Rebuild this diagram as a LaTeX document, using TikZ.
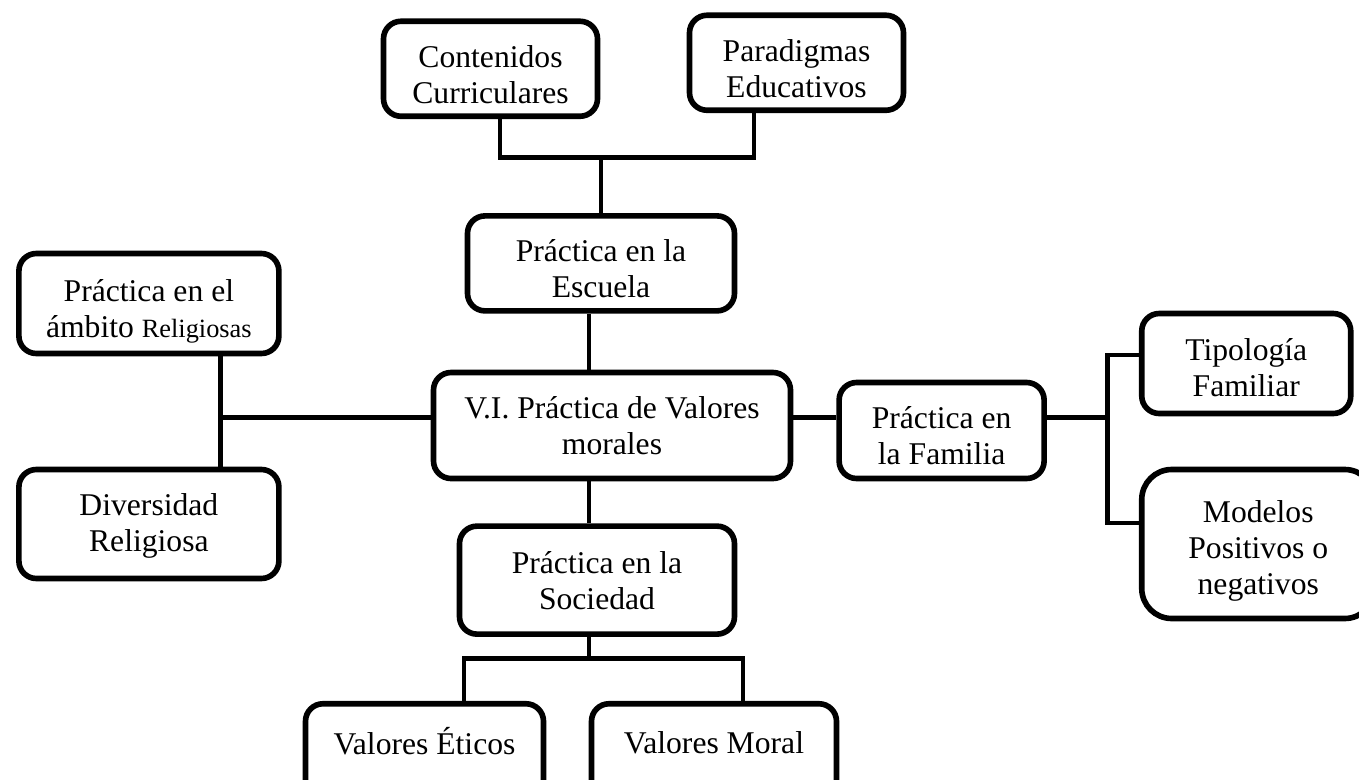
\documentclass[tikz,border=0pt]{standalone}
\usepackage{fontspec}
\setmainfont{Liberation Serif}
\usetikzlibrary{positioning}
\tikzset{
  every node/.style={text=black, draw=black, font=\fontsize{18}{20.5}\selectfont, line width=3.2pt, rounded corners=0.35cm},
  every path/.style={draw=black, line width=2.8pt}
}
% text of a box, moved down a little
\newcommand{\boxtext}[2][0.16cm]{\raisebox{-#1}[\height][\depth]{\begin{tabular}{c} #2 \end{tabular}}}

\begin{document}
\begin{tikzpicture}
  \path[use as bounding box, draw=none] (0,0) rectangle (27.18,-15.58);
  % Nodes
  \node (vi) at (12.24,-8.51) [minimum width=7.14cm, minimum height=2.12cm] {\boxtext[0.08cm]{V.I. Práctica de Valores \\ morales}};
  \node (escuela) [above=1.12cm of vi, xshift=-0.22cm, minimum width=5.34cm, minimum height=1.9cm] {\boxtext[0.18cm]{Práctica en la \\ Escuela}};
  \node (contenidos) [above=1.88cm of escuela, xshift=-2.21cm, minimum width=4.28cm, minimum height=1.9cm] {\boxtext[0.2cm]{Contenidos \\ Curriculares}};
  \node (paradigmas) [above=2cm of escuela, xshift=3.91cm, minimum width=4.28cm, minimum height=1.9cm] {\boxtext[0.2cm]{Paradigmas \\ Educativos}};
  \node (sociedad) [below=0.84cm of vi, xshift=-0.3cm, minimum width=5.5cm, minimum height=2.16cm] {\boxtext[0.08cm]{Práctica en la \\ Sociedad}};
  \node (eticos) [below=1.28cm of sociedad, xshift=-3.45cm, minimum width=4.76cm, minimum height=1.9cm] {\boxtext[-0.1cm]{Valores Éticos}};
  \node (moral) [below=1.28cm of sociedad, xshift=2.34cm, minimum width=4.9cm, minimum height=1.9cm] {\boxtext[-0.1cm]{Valores Moral}};
  \node (familia) [right=0.86cm of vi, yshift=-0.1cm, minimum width=4.1cm, minimum height=1.92cm] {\boxtext[0.18cm]{Práctica en \\ la Familia}};
  \node (tipologia) [right=1.84cm of familia, yshift=1.34cm, minimum width=4.18cm, minimum height=2cm] {\boxtext{Tipología \\ Familiar}};
  \node (modelos) [right=1.84cm of familia, yshift=-2.27cm, minimum width=4.66cm, minimum height=2.98cm, rounded corners=0.6cm] {\boxtext[0.14cm]{Modelos \\ Positivos o \\ negativos}};
  \node (religiosas) [left=2.98cm of vi, yshift=2.44cm, minimum width=5.2cm, minimum height=2cm] {\boxtext[0.18cm]{Práctica en el \\ ámbito {\fontsize{15}{18}\selectfont Religiosas}}};
  \node (diversidad) [left=2.98cm of vi, yshift=-1.97cm, minimum width=5.2cm, minimum height=2.18cm] {\boxtext[0.04cm]{Diversidad \\ Religiosa}};

  % school branch
  \coordinate (schoolbar) at ([yshift=1.12cm]escuela.north);
  \coordinate (contstem) at ([xshift=0.19cm]contenidos.south);
  \coordinate (parastem) at ([xshift=-0.85cm]paradigmas.south);
  \draw (contstem) |- (parastem |- schoolbar) -- (parastem);
  \draw (schoolbar) -- (escuela.north);

  % vertical spine
  \coordinate (spine) at ([xshift=-0.46cm]vi.north);
  \draw (spine) -- (spine |- escuela.south);
  \draw (spine |- vi.south) -- (spine |- sociedad.north);

  % society branch
  \coordinate (socstem) at (spine |- sociedad.south);
  \coordinate (socbar) at ([yshift=-0.44cm]socstem);
  \coordinate (eticstem) at ([xshift=0.79cm]eticos.north);
  \coordinate (moralstem) at ([xshift=0.58cm]moral.north);
  \draw (socstem) -- (socbar);
  \draw (eticstem) |- (moralstem |- socbar) -- (moralstem);

  % religion branch
  \coordinate (relstem) at ([xshift=1.43cm]religiosas.south);
  \draw (relstem) -- (relstem |- diversidad.north);
  \coordinate (vileft) at ([yshift=0.16cm]vi.west);
  \draw (vileft) -- (vileft -| relstem);

  % family branch
  \coordinate (viright) at ([yshift=0.16cm]vi.east);
  \draw (viright) -- (viright -| familia.west);
  \coordinate (famjoin) at ([xshift=-0.62cm]tipologia.west);
  \coordinate (tipoin) at ([yshift=0.17cm]tipologia.west);
  \coordinate (modin) at ([yshift=0.42cm]modelos.west);
  \draw (viright -| familia.east) -- (viright -| famjoin);
  \draw (tipoin) -| (famjoin |- modin) -- (modin);
\end{tikzpicture}
\end{document}
